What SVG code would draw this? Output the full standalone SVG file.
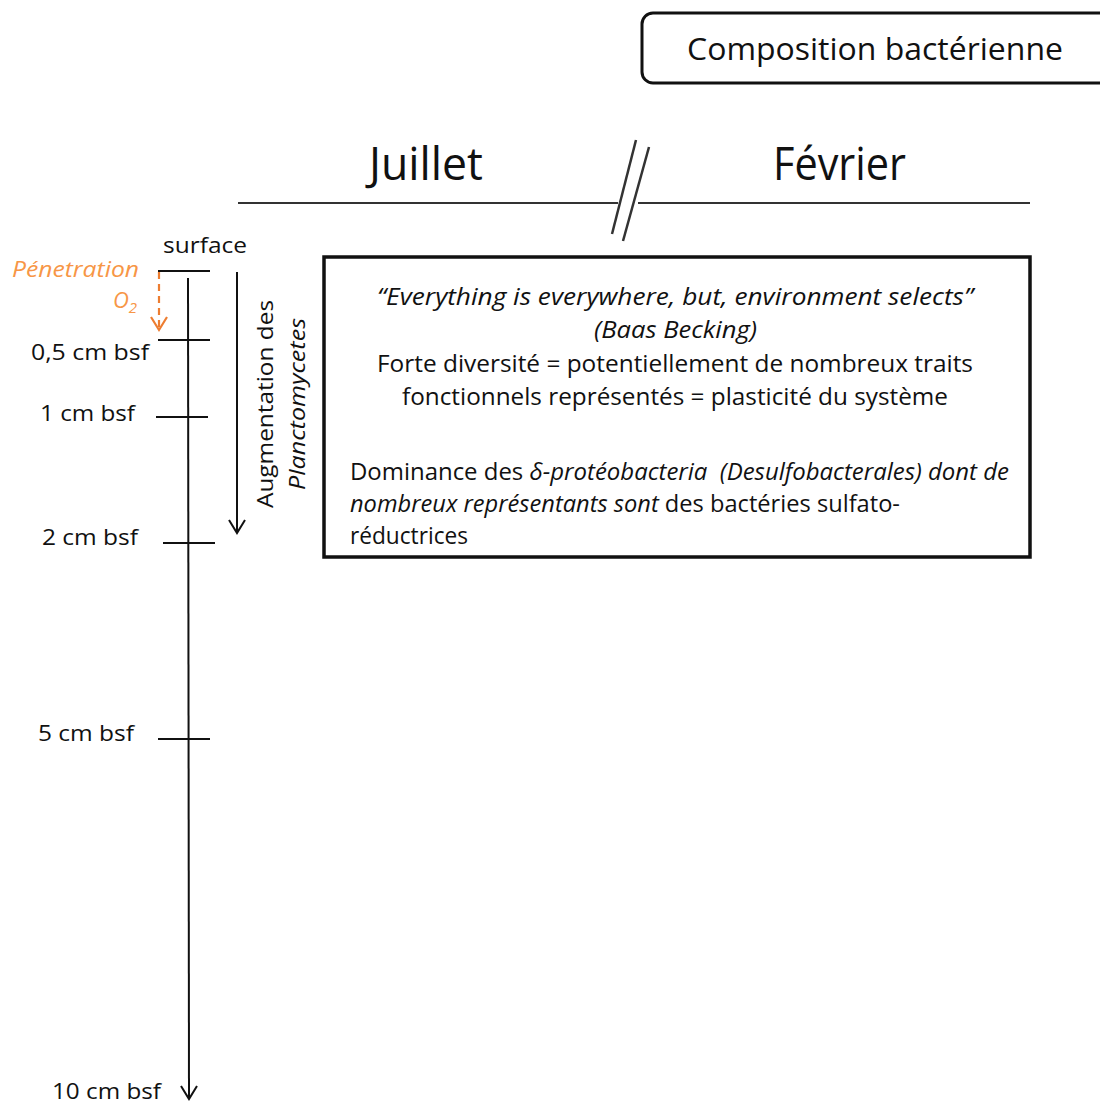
<svg xmlns="http://www.w3.org/2000/svg" width="1100" height="1103" viewBox="0 0 1100 1103">
<style>
text{font-family:"Open Sans","Noto Sans",sans-serif;fill:#111}
.lbl{font-size:22px}
.box{font-size:23px}
.it{font-style:italic}
.ln{stroke:#111;stroke-width:2;fill:none}
.or{fill:#F79646}
</style>
<rect width="1100" height="1103" fill="#fff"/>
<g id="title">
<rect x="642" y="13" width="500" height="70" rx="11" fill="#fff" stroke="#111" stroke-width="3"/>
<text x="687" y="60" font-size="31" textLength="376" lengthAdjust="spacingAndGlyphs">Composition bactérienne</text>
</g>
<g id="header">
<line x1="238" y1="203" x2="618" y2="203" stroke="#333" stroke-width="2"/>
<line x1="638" y1="203" x2="1030" y2="203" stroke="#333" stroke-width="2"/>
<line x1="612" y1="234" x2="636" y2="140" stroke="#333" stroke-width="2.5"/>
<line x1="623" y1="241" x2="649" y2="147" stroke="#333" stroke-width="2.5"/>
<text x="369" y="180" font-size="45" textLength="114" lengthAdjust="spacingAndGlyphs">Juillet</text>
<text x="773" y="180" font-size="45" textLength="133" lengthAdjust="spacingAndGlyphs">Février</text>
</g>
<g id="depth-axis">
<line class="ln" x1="158" y1="271" x2="210" y2="271"/>
<line class="ln" x1="188" y1="278" x2="189" y2="1099"/>
<polyline class="ln" points="181,1086 189,1099 197,1086"/>
<line class="ln" x1="158" y1="340" x2="210" y2="340"/>
<line class="ln" x1="156" y1="417" x2="208" y2="417"/>
<line class="ln" x1="163" y1="543" x2="215" y2="543"/>
<line class="ln" x1="158" y1="739" x2="210" y2="739"/>
<text class="lbl" x="163" y="253" textLength="84" lengthAdjust="spacingAndGlyphs">surface</text>
<text class="lbl" x="31" y="360" textLength="118" lengthAdjust="spacingAndGlyphs">0,5 cm bsf</text>
<text class="lbl" x="40" y="421" textLength="95" lengthAdjust="spacingAndGlyphs">1 cm bsf</text>
<text class="lbl" x="42" y="545" textLength="96" lengthAdjust="spacingAndGlyphs">2 cm bsf</text>
<text class="lbl" x="38" y="741" textLength="96" lengthAdjust="spacingAndGlyphs">5 cm bsf</text>
<text class="lbl" x="52" y="1099" textLength="109" lengthAdjust="spacingAndGlyphs">10 cm bsf</text>
</g>
<g id="oxygen">
<line x1="159" y1="272" x2="159" y2="328" stroke="#ED7D31" stroke-width="2.2" stroke-dasharray="7,5"/>
<polyline points="151,317 159,330 167,317" fill="none" stroke="#ED7D31" stroke-width="2.2"/>
<text class="lbl it or" x="12" y="277" textLength="127" lengthAdjust="spacingAndGlyphs">Pénetration</text>
<text class="lbl it or" x="113" y="308">O<tspan font-size="15" dy="5">2</tspan></text>
</g>
<g id="planctomycetes">
<line class="ln" x1="237" y1="272" x2="237" y2="533"/>
<polyline class="ln" points="229,520 237,533 245,520"/>
<text class="lbl" transform="translate(273,404) rotate(-90)" text-anchor="middle" textLength="208" lengthAdjust="spacingAndGlyphs">Augmentation des</text>
<text class="lbl it" transform="translate(305,404) rotate(-90)" text-anchor="middle" textLength="172" lengthAdjust="spacingAndGlyphs">Planctomycetes</text>
</g>
<g id="main-box">
<rect x="324" y="257" width="706" height="300" fill="#fff" stroke="#111" stroke-width="3.5"/>
<text class="box it" x="377" y="305" textLength="596" lengthAdjust="spacingAndGlyphs">“Everything is everywhere, but, environment selects”</text>
<text class="box it" x="594" y="338" textLength="163" lengthAdjust="spacingAndGlyphs">(Baas Becking)</text>
<text class="box" x="377" y="372" textLength="596" lengthAdjust="spacingAndGlyphs">Forte diversité = potentiellement de nombreux traits</text>
<text class="box" x="402" y="405" textLength="546" lengthAdjust="spacingAndGlyphs">fonctionnels représentés = plasticité du système</text>
<text class="box" x="350" y="480" textLength="659" lengthAdjust="spacingAndGlyphs">Dominance des <tspan class="it">δ-protéobacteria &#160;(Desulfobacterales) dont de</tspan></text>
<text class="box" x="350" y="512" textLength="550" lengthAdjust="spacingAndGlyphs"><tspan class="it">nombreux représentants sont</tspan> des bactéries sulfato-</text>
<text class="box" x="350" y="544" textLength="118" lengthAdjust="spacingAndGlyphs">réductrices</text>
</g>
</svg>
